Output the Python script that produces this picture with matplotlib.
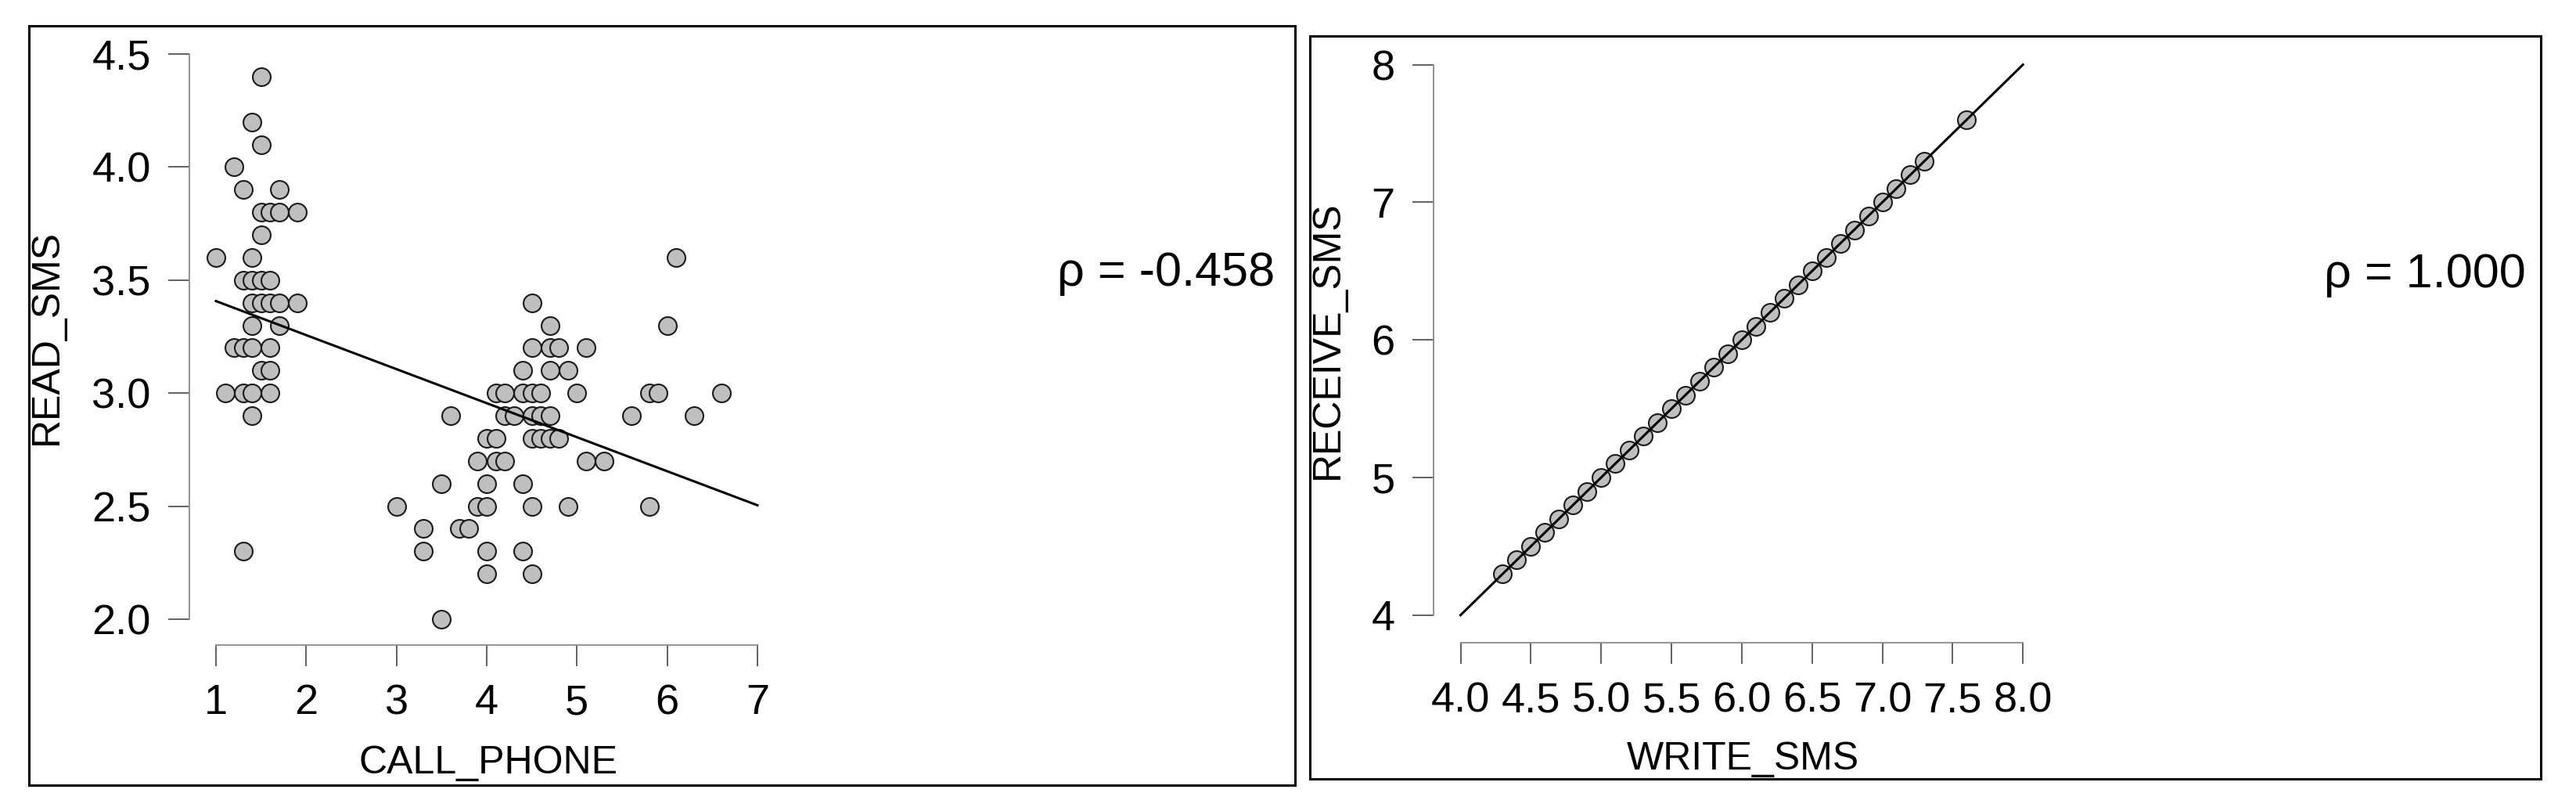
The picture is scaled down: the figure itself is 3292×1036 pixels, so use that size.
import matplotlib
matplotlib.use("Agg")
import matplotlib.pyplot as plt
from matplotlib.patches import Rectangle
import numpy as np

# left panel: CALL_PHONE vs READ_SMS
call_phone = [1.5, 1.4, 1.5, 1.2, 1.3, 1.7,
              1.5, 1.6, 1.7, 1.9, 1.5, 1.0, 1.4,
              1.3, 1.4, 1.5, 1.6, 1.4, 1.5, 1.6, 1.7, 1.9,
              1.4, 1.7, 1.2, 1.3, 1.4, 1.6, 1.5, 1.6,
              1.1, 1.3, 1.4, 1.6, 1.4, 1.3,
              6.1, 4.5, 4.7, 6.0, 4.5, 4.7, 4.8, 5.1, 4.4, 4.7, 4.9,
              4.1, 4.2, 4.4, 4.5, 4.6, 5.0, 5.8, 5.9, 6.6,
              3.6, 4.2, 4.3, 4.5, 4.6, 4.7, 5.6, 6.3,
              4.0, 4.1, 4.5, 4.6, 4.7, 4.8,
              3.9, 4.1, 4.2, 5.1, 5.3,
              3.5, 4.0, 4.4,
              3.0, 3.9, 4.0, 4.5, 4.9, 5.8,
              3.3, 3.7, 3.8, 3.3, 4.0, 4.4, 4.0, 4.5, 3.5]
read_sms = [4.4, 4.2, 4.1, 4.0, 3.9, 3.9,
            3.8, 3.8, 3.8, 3.8, 3.7, 3.6, 3.6,
            3.5, 3.5, 3.5, 3.5, 3.4, 3.4, 3.4, 3.4, 3.4,
            3.3, 3.3, 3.2, 3.2, 3.2, 3.2, 3.1, 3.1,
            3.0, 3.0, 3.0, 3.0, 2.9, 2.3,
            3.6, 3.4, 3.3, 3.3, 3.2, 3.2, 3.2, 3.2, 3.1, 3.1, 3.1,
            3.0, 3.0, 3.0, 3.0, 3.0, 3.0, 3.0, 3.0, 3.0,
            2.9, 2.9, 2.9, 2.9, 2.9, 2.9, 2.9, 2.9,
            2.8, 2.8, 2.8, 2.8, 2.8, 2.8,
            2.7, 2.7, 2.7, 2.7, 2.7,
            2.6, 2.6, 2.6,
            2.5, 2.5, 2.5, 2.5, 2.5, 2.5,
            2.4, 2.4, 2.4, 2.3, 2.3, 2.3, 2.2, 2.2, 2.0]
rho_left = "ρ = -0.458"

# right panel: WRITE_SMS vs RECEIVE_SMS
write_sms = [4.3, 4.4, 4.5, 4.6, 4.7, 4.8, 4.9, 5.0, 5.1, 5.2, 5.3, 5.4,
             5.5, 5.6, 5.7, 5.8, 5.9, 6.0, 6.1, 6.2, 6.3, 6.4, 6.5, 6.6,
             6.7, 6.8, 6.9, 7.0, 7.1, 7.2, 7.3, 7.6]
receive_sms = [4.3, 4.4, 4.5, 4.6, 4.7, 4.8, 4.9, 5.0, 5.1, 5.2, 5.3, 5.4,
               5.5, 5.6, 5.7, 5.8, 5.9, 6.0, 6.1, 6.2, 6.3, 6.4, 6.5, 6.6,
               6.7, 6.8, 6.9, 7.0, 7.1, 7.2, 7.3, 7.6]
rho_right = "ρ = 1.000"

W, H = 3292, 1036
fig = plt.figure(figsize=(W / 100, H / 100), dpi=100)

def fx(px):
    return px / W

def fy(py):
    return 1 - py / H

def style_axes(ax, xb, yb, xt, yt, off_l, off_b, font):
    ax.set_xlim(*xb)
    ax.set_ylim(*yb)
    for s in ["top", "right"]:
        ax.spines[s].set_visible(False)
    ax.spines["left"].set_position(("outward", off_l))
    ax.spines["bottom"].set_position(("outward", off_b))
    ax.spines["left"].set_bounds(*yb)
    ax.spines["bottom"].set_bounds(*xb)
    for s in ["left", "bottom"]:
        ax.spines[s].set_color("#8a8a8a")
        ax.spines[s].set_linewidth(1.3)
    ax.set_xticks(xt)
    ax.set_yticks(yt)
    ax.tick_params(length=19.5, width=1.3, color="#555555", pad=16,
                   labelsize=39, labelcolor="black")
    for lab in ax.get_xticklabels() + ax.get_yticklabels():
        lab.set_family(font)
    ax.patch.set_alpha(0)

mk = dict(marker="o", ls="none", ms=16.5, mfc="#bfbfbf", mec="#1a1a1a",
          mew=1.5, clip_on=False, zorder=3)

# left
ax1 = fig.add_axes([fx(276), fy(791), fx(968) - fx(276), fy(69) - fy(791)])
ax1.plot(call_phone, read_sms, **mk)
slope, icept = np.polyfit(call_phone, read_sms, 1)
xs = np.array([1, 7])
ax1.plot(xs, icept + slope * xs, color="black", lw=2.2, zorder=4, clip_on=False)
style_axes(ax1, (1, 7), (2.0, 4.5), [1, 2, 3, 4, 5, 6, 7],
           [2.0, 2.5, 3.0, 3.5, 4.0, 4.5], 24.5, 23.8, "Liberation Sans")
ax1.set_yticklabels(["2.0", "2.5", "3.0", "3.5", "4.0", "4.5"])
ax1.set_xlabel("CALL_PHONE", fontsize=36, family="Liberation Sans", va="center")
ax1.xaxis.set_label_coords(fx(624), fy(975), transform=fig.transFigure)
ax1.set_ylabel("READ_SMS", fontsize=36, family="Liberation Sans", va="center")
ax1.yaxis.set_label_coords(fx(60), fy(430), transform=fig.transFigure)
fig.text(fx(1351), fy(365), rho_left, fontsize=44, family="Liberation Sans",
         ha="left", va="baseline")

# right
ax2 = fig.add_axes([fx(1866.5), fy(785.8), (2585.2 - 1866.5) / W, (785.8 - 82.6) / H])
ax2.plot(write_sms, receive_sms, **mk)
xs2 = np.array([4, 8])
sl2, ic2 = np.polyfit(write_sms, receive_sms, 1)
ax2.plot(xs2, ic2 + sl2 * xs2, color="black", lw=2.2, zorder=4, clip_on=False)
style_axes(ax2, (4, 8), (4, 8), [4.0, 4.5, 5.0, 5.5, 6.0, 6.5, 7.0, 7.5, 8.0],
           [4, 5, 6, 7, 8], 24.8, 25.7, "Liberation Sans")
ax2.set_xticklabels(["4.0", "4.5", "5.0", "5.5", "6.0", "6.5", "7.0", "7.5", "8.0"])
ax2.set_xlabel("WRITE_SMS", fontsize=36, family="Liberation Sans", va="center")
ax2.xaxis.set_label_coords(fx(2227), fy(970), transform=fig.transFigure)
ax2.set_ylabel("RECEIVE_SMS", fontsize=36, family="Liberation Sans", va="center")
ax2.yaxis.set_label_coords(fx(1697), fy(434), transform=fig.transFigure)
fig.text(fx(2970), fy(367), rho_right, fontsize=44, family="Liberation Sans",
         ha="left", va="baseline")

# panel frames
for (x0, y0, x1, y1) in [(37, 33, 1655, 1003), (1674, 46, 3247, 995)]:
    fig.add_artist(Rectangle((fx(x0), fy(y1)), fx(x1) - fx(x0), fy(y0) - fy(y1),
                             transform=fig.transFigure, fill=False,
                             edgecolor="black", lw=2.2))

fig.savefig("out.png", dpi=100)
